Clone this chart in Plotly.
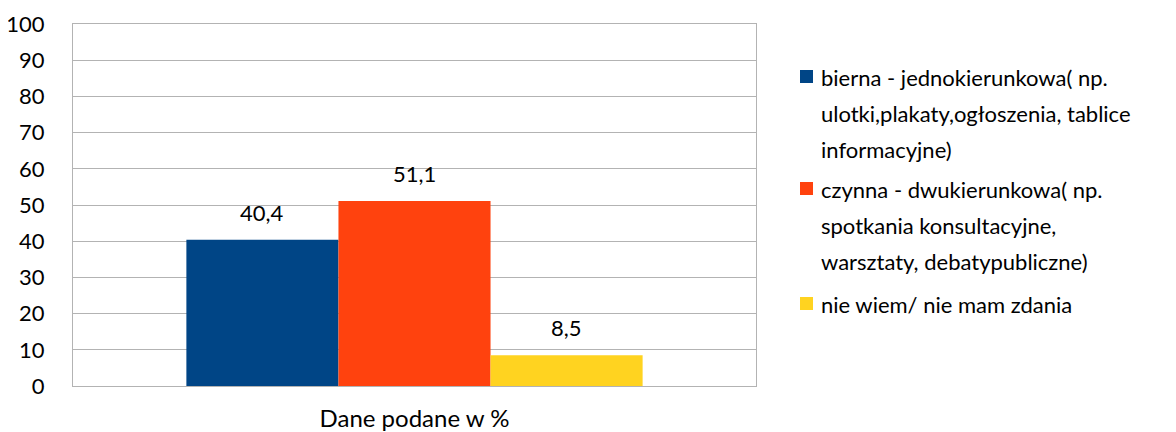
import plotly.graph_objects as go

category = ["Dane podane w %"]
series_names = [
    "bierna - jednokierunkowa( np. ulotki,plakaty,ogłoszenia, tablice informacyjne)",
    "czynna - dwukierunkowa( np. spotkania konsultacyjne, warsztaty, debatypubliczne)",
    "nie wiem/ nie mam zdania",
]
legend_lines = [
    ["bierna - jednokierunkowa( np.", "ulotki,plakaty,ogłoszenia, tablice", "informacyjne)"],
    ["czynna - dwukierunkowa( np.", "spotkania konsultacyjne,", "warsztaty, debatypubliczne)"],
    ["nie wiem/ nie mam zdania"],
]
values = [40.4, 51.1, 8.5]
colors = ["#004586", "#ff420e", "#ffd320"]
y_ticks = list(range(0, 101, 10))

FONT = "Lato"
FS = 22
OFF = 8  # page body margin offset
W, H = 1176 - OFF, 432 - OFF
L, R, T, B = 73 - OFF, 420, 24 - OFF, 46
pw, ph = W - L - R, H - T - B
BARGAP = 0.332

def px_x(x):
    return (x - OFF - L) / pw

def px_y(y):
    return (H + OFF - B - y) / ph

fig = go.Figure()
for name, v, c in zip(series_names, values, colors):
    fig.add_trace(go.Bar(
        x=category, y=[v], name=name, marker=dict(color=c, line=dict(width=0)),
        showlegend=False, hoverinfo="name+y",
    ))

# data labels above each bar
bar_w = pw * (1 - BARGAP) / len(values)
for i, v in enumerate(values):
    fig.add_annotation(x=category[0], y=v, xref="x", yref="y",
                       xshift=(i - (len(values) - 1) / 2) * bar_w, yshift=12,
                       text=f"{v:.1f}".replace(".", ","), showarrow=False,
                       xanchor="center", yanchor="bottom",
                       font=dict(family=FONT, size=FS, color="#000000"))

# manual legend (wrapped multi-line labels with wide line spacing)
item_tops = [77, 189, 304]
line_gap = 36
for lines, c, y0 in zip(legend_lines, colors, item_tops):
    fig.add_shape(type="rect", xref="paper", yref="paper",
                  x0=px_x(800), x1=px_x(813), y0=px_y(y0 - 7), y1=px_y(y0 + 6),
                  fillcolor=c, line=dict(width=0))
    for i, t in enumerate(lines):
        fig.add_annotation(text=t, xref="paper", yref="paper",
                           x=px_x(819), y=px_y(y0 + i * line_gap),
                           xanchor="left", yanchor="middle", showarrow=False,
                           font=dict(family=FONT, size=FS, color="#000000"))

fig.update_layout(
    width=W, height=H,
    margin=dict(l=L, r=R, t=T, b=B, autoexpand=False),
    paper_bgcolor="white", plot_bgcolor="white",
    barmode="group", bargap=BARGAP, bargroupgap=0,
    separators=", ",
    font=dict(family=FONT, size=FS, color="#000000"),
    showlegend=False,
)
fig.update_yaxes(range=[0, 100], tickvals=y_ticks, showgrid=True, gridcolor="#b3b3b3",
                 gridwidth=1, showline=True, linecolor="#b3b3b3", mirror=True,
                 zeroline=False, ticks="", ticklabelstandoff=23, automargin=False,
                 tickfont=dict(family=FONT, size=FS, color="#000000"))
fig.update_xaxes(showline=True, linecolor="#b3b3b3", mirror=True, ticks="",
                 ticklabelstandoff=11, automargin=False,
                 tickfont=dict(family=FONT, size=24, color="#000000"))

fig.write_html("out.html")
